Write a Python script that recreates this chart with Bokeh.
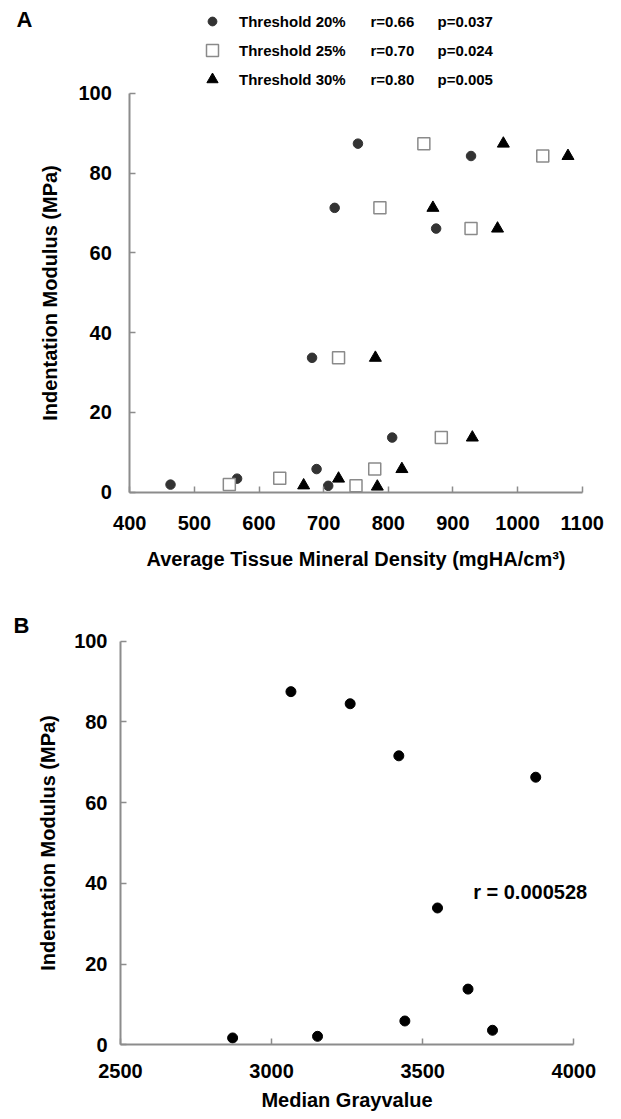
from bokeh.plotting import figure
from bokeh.layouts import column
from bokeh.models import Range1d, FixedTicker, Legend, LegendItem, Label, LinearAxis
from bokeh.embed import file_html
from bokeh.resources import INLINE

FONT = "Liberation Sans"

# ---- Panel A data: average tissue mineral density vs indentation modulus ----
tmd_20 = [463, 566, 689, 707, 682, 806, 717, 753, 874, 928]
mod_20 = [1.9, 3.4, 5.8, 1.6, 33.7, 13.7, 71.3, 87.4, 66.1, 84.3]

tmd_25 = [554, 632, 750, 779, 723, 882, 787, 855, 928, 1039]
mod_25 = [1.9, 3.5, 1.6, 5.8, 33.7, 13.7, 71.3, 87.4, 66.1, 84.3]

tmd_30 = [669, 723, 783, 821, 780, 930, 869, 978, 969, 1078]
mod_30 = [1.7, 3.4, 1.4, 5.8, 33.7, 13.7, 71.3, 87.4, 66.1, 84.3]

series_labels = ["Threshold 20%", "Threshold 25%", "Threshold 30%"]
r_values = [0.66, 0.70, 0.80]
p_values = [0.037, 0.024, 0.005]

# ---- Panel B data: median grayvalue vs indentation modulus ----
gray_b = [2871, 3152, 3441, 3731, 3650, 3549, 3874, 3421, 3260, 3064]
mod_b = [1.7, 2.1, 5.9, 3.6, 13.8, 33.9, 66.3, 71.6, 84.5, 87.5]
r_b = 0.000528

xticks_a = [400, 500, 600, 700, 800, 900, 1000, 1100]
xticks_b = [2500, 3000, 3500, 4000]
yticks = [0, 20, 40, 60, 80, 100]
xlim_a = (400, 1100)
xlim_b = (2500, 4000)
ylim = (0, 100)

AXIS_GRAY = "#8c8c8c"


def ranges(lim, px_lo, px_hi, total_px, flip=False):
    """Extend a data range so that lim maps to the given pixel positions
    on a canvas of total_px (the frame covers the whole canvas)."""
    lo, hi = lim
    if not flip:
        per_px = (hi - lo) / (px_hi - px_lo)
        return Range1d(lo - px_lo * per_px, hi + (total_px - px_hi) * per_px)
    per_px = (hi - lo) / (px_lo - px_hi)
    return Range1d(lo - (total_px - px_lo) * per_px, hi + px_hi * per_px)


def make_axes(p, xlim, xticks, xlabel, ylabel, xstand, ystand, xlab_stand, ylab_stand):
    xa = LinearAxis(fixed_location=ylim[0], bounds=xlim, ticker=FixedTicker(ticks=xticks),
                    axis_label=xlabel)
    ya = LinearAxis(fixed_location=xlim[0], bounds=ylim, ticker=FixedTicker(ticks=yticks),
                    axis_label=ylabel)
    for ax in (xa, ya):
        ax.axis_line_color = AXIS_GRAY
        ax.axis_line_width = 2
        ax.major_tick_line_color = AXIS_GRAY
        ax.major_tick_line_width = 1.5
        ax.major_tick_in = 6
        ax.major_tick_out = 0
        ax.minor_tick_line_color = None
        ax.major_label_text_font = FONT
        ax.major_label_text_font_style = "bold"
        ax.major_label_text_font_size = "20px"
        ax.major_label_text_color = "black"
        ax.axis_label_text_font = FONT
        ax.axis_label_text_font_style = "bold"
        ax.axis_label_text_font_size = "20px"
        ax.axis_label_text_color = "black"
    xa.major_label_standoff = xstand
    ya.major_label_standoff = ystand
    xa.axis_label_standoff = xlab_stand
    ya.axis_label_standoff = ylab_stand
    p.add_layout(xa, "below")
    p.add_layout(ya, "left")


def base_fig(w, h, xr, yr):
    p = figure(width=w, height=h, x_range=xr, y_range=yr,
               x_axis_location=None, y_axis_location=None,
               min_border=0, output_backend="svg", toolbar_location=None)
    p.grid.visible = False
    p.outline_line_color = None
    p.background_fill_color = "white"
    p.border_fill_color = "white"
    return p


def text_label(p, x, y, text, size, align="left", units="screen"):
    p.add_layout(Label(x=x, y=y, x_units=units, y_units=units, text=text,
                       text_baseline="middle", text_align=align, text_font=FONT,
                       text_font_style="bold", text_font_size=size,
                       text_color="black"))


# ---------------- Panel A ----------------
WA, HA = 621, 598
pA = base_fig(WA, HA,
              ranges(xlim_a, 129.3, 581.7, WA),
              ranges(ylim, 491.7, 92.9, HA, flip=True))
make_axes(pA, xlim_a, xticks_a, "Average Tissue Mineral Density (mgHA/cm³)",
          "Indentation Modulus (MPa)", 24, 18, 14, 14)

r20 = pA.scatter(tmd_20, mod_20, marker="circle", size=9.5,
                 fill_color="#333333", line_color="#333333")
r25 = pA.scatter(tmd_25, mod_25, marker="square", size=12,
                 fill_color="white", line_color="#8a8a8a", line_width=1.5)
r30 = pA.scatter(tmd_30, mod_30, marker="triangle", size=12,
                 fill_color="black", line_color="black")

# legend: one row per threshold, glyph box chosen to size each key marker
row_centers = [21, 50, 79]          # px from top of panel
glyph_boxes = [22, 30, 28]
key_cx, label_x, r_x, p_x = 212, 239, 370, 437
for i, rend in enumerate([r20, r25, r30]):
    g = glyph_boxes[i]
    lg = Legend(items=[LegendItem(label=series_labels[i], renderers=[rend])],
                location=(key_cx - g // 2, (HA - row_centers[i]) - g // 2),
                orientation="vertical", glyph_width=g, glyph_height=g,
                spacing=0, padding=0, margin=0,
                label_standoff=int(round(label_x - (key_cx + g / 2))), label_height=g,
                border_line_color=None, background_fill_alpha=0,
                label_text_font=FONT, label_text_font_style="bold",
                label_text_font_size="15px", label_text_color="black")
    pA.add_layout(lg, "center")
    text_label(pA, r_x, HA - row_centers[i], f"r={r_values[i]:.2f}", "15px")
    text_label(pA, p_x, HA - row_centers[i], f"p={p_values[i]:.3f}", "15px")

text_label(pA, 24, HA - 19, "A", "22px", align="center")

# ---------------- Panel B ----------------
WB, HB = 621, 521
pB = base_fig(WB, HB,
              ranges(xlim_b, 120, 573.3, WB),
              ranges(ylim, 446.3, 42.7, HB, flip=True))
make_axes(pB, xlim_b, xticks_b, "Median Grayvalue", "Indentation Modulus (MPa)",
          19, 13, 8, 12)

pB.scatter(gray_b, mod_b, marker="circle", size=10,
           fill_color="black", line_color="black")

text_label(pB, 3667, 37.8, f"r = {r_b:.6f}", "20px", units="data")
text_label(pB, 21, HB - 27, "B", "22px", align="center")

layout = column(pA, pB, spacing=0)

open("out.html", "w").write(file_html(layout, INLINE))
